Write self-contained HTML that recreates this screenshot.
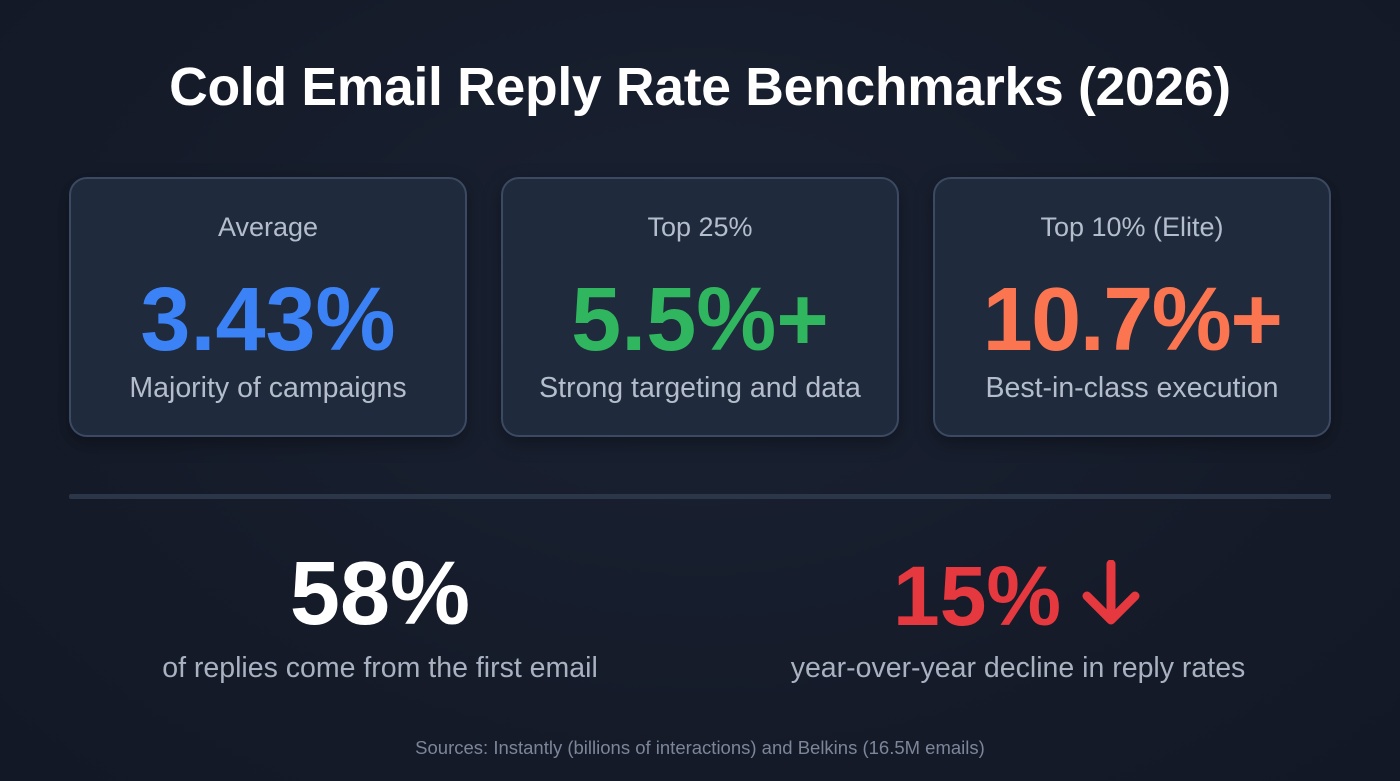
<!DOCTYPE html>
<html><head><meta charset="utf-8"><style>
*{margin:0;padding:0;box-sizing:border-box}
body{width:1400px;height:781px;overflow:hidden;background:radial-gradient(ellipse at 50% 40%,#1a2233 0%,#151b29 60%,#121826 100%);font-family:"Liberation Sans",sans-serif;position:relative;color:#fff}
.t{position:absolute;left:0;width:1400px;text-align:center;top:57px;font-size:53.5px;font-weight:bold;letter-spacing:-0.3px}
.card{position:absolute;top:177px;width:398px;height:260px;border:2px solid #3b4a62;border-radius:18px;background:#1f2a3c;box-shadow:0 6px 18px rgba(0,0,0,.35);text-align:center}
.lab{position:absolute;top:33px;width:100%;font-size:27px;color:#b4bdcb}
.big{position:absolute;top:90px;width:100%;font-size:90px;font-weight:bold}
.sub{position:absolute;top:193px;width:100%;font-size:28.5px;color:#b4bdcb}
.div{position:absolute;left:69px;top:494px;width:1262px;height:5px;background:#2b3649;border-radius:2px}
.stat{position:absolute;text-align:center;width:600px}
.sbig{font-size:90px;font-weight:bold;position:absolute;top:543px}
.ssub{font-size:28.5px;color:#a9b2c1;position:absolute;top:652px}
.src{position:absolute;top:737px;left:0;width:1400px;text-align:center;font-size:18.5px;color:#7c8698}
</style></head><body>
<div class="t">Cold Email Reply Rate Benchmarks (2026)</div>
<div class="card" style="left:69px">
<div class="lab">Average</div>
<div class="big" style="color:#3b82f6">3.43%</div>
<div class="sub">Majority of campaigns</div></div>
<div class="card" style="left:501px">
<div class="lab">Top 25%</div>
<div class="big" style="color:#2fb65e">5.5%+</div>
<div class="sub">Strong targeting and data</div></div>
<div class="card" style="left:933px">
<div class="lab">Top 10% (Elite)</div>
<div class="big" style="color:#fb7550;letter-spacing:-1.5px">10.7%+</div>
<div class="sub">Best-in-class execution</div></div>
<div class="div"></div>
<div class="stat sbig" style="left:80px;color:#fff">58%</div>
<div class="stat ssub" style="left:80px">of replies come from the first email</div>
<div class="sbig" style="left:893px;color:#e5383f;font-size:84px;top:548px">15%</div>
<svg style="position:absolute;left:1081px;top:560px" width="60" height="68"><path d="M30 4 V60 M6 36 L30 60 L54 36" stroke="#e5383f" stroke-width="9" fill="none" stroke-linecap="round" stroke-linejoin="round"/></svg>
<div class="stat ssub" style="left:718px">year-over-year decline in reply rates</div>
<div class="src">Sources: Instantly (billions of interactions) and Belkins (16.5M emails)</div>
</body></html>
